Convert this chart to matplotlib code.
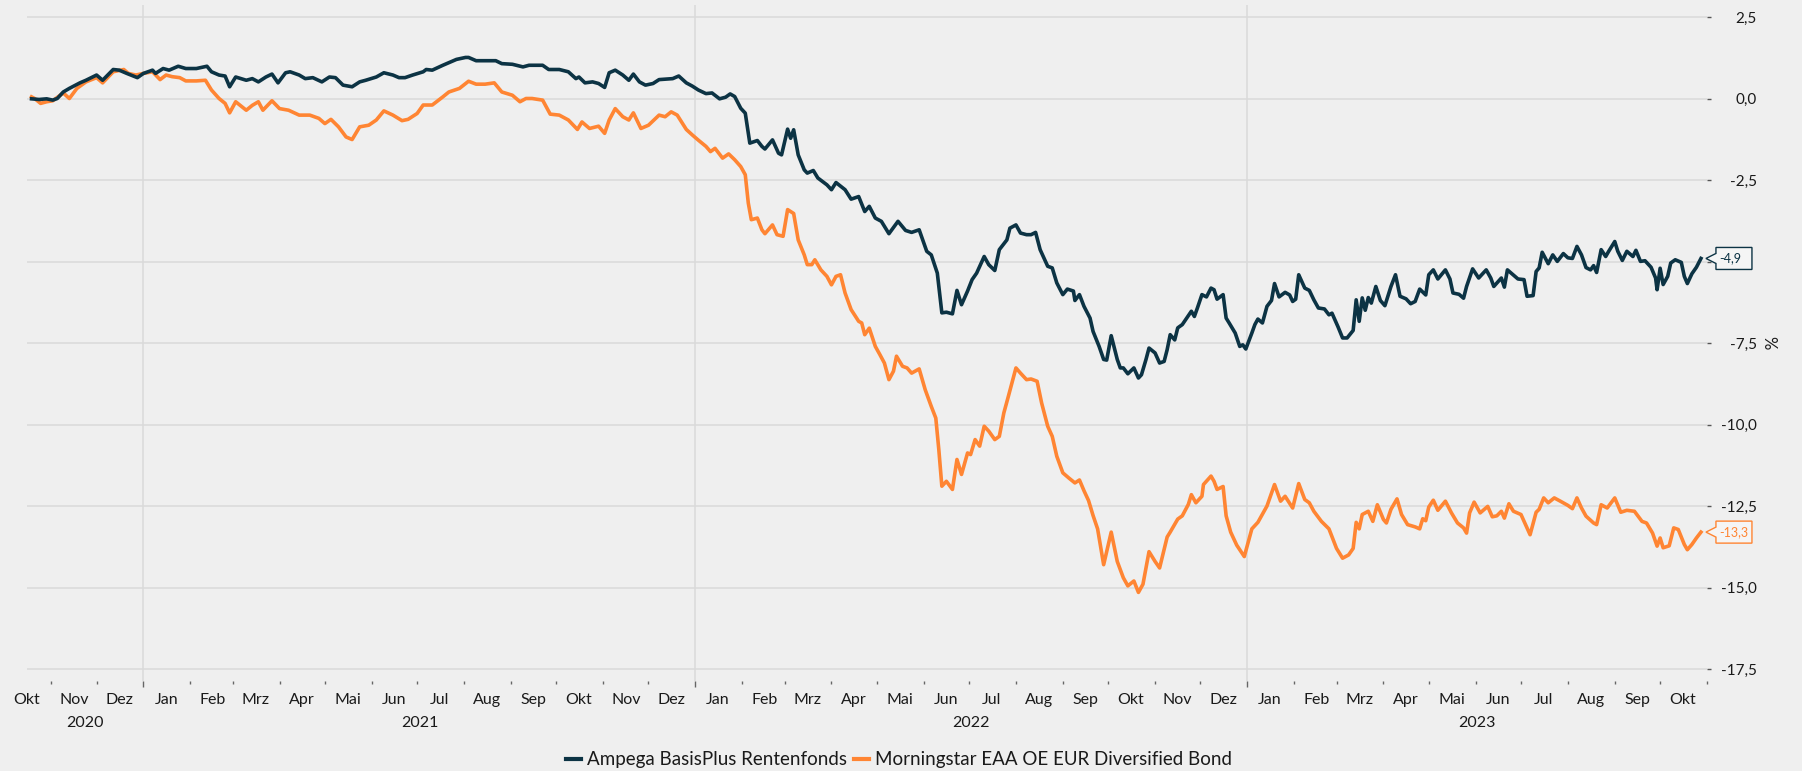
import pandas as pd
import numpy as np
import matplotlib
matplotlib.use('Agg')
import matplotlib.pyplot as plt
import matplotlib.dates as mdates
import matplotlib.transforms as mtransforms
from matplotlib.patches import Polygon
from matplotlib.lines import Line2D

plt.rcParams['font.family'] = ['Lato', 'DejaVu Sans']

# Ampega BasisPlus Rentenfonds, Wertentwicklung in %
ampega_dates = [
    '2020-10-19', '2020-10-24', '2020-10-29', '2020-11-02', '2020-11-05', '2020-11-09', '2020-11-13', '2020-11-20',
    '2020-11-24', '2020-12-01', '2020-12-05', '2020-12-12', '2020-12-16', '2020-12-21', '2020-12-28', '2021-01-01',
    '2021-01-07', '2021-01-09', '2021-01-14', '2021-01-18', '2021-01-24', '2021-01-29', '2021-02-05', '2021-02-12',
    '2021-02-15', '2021-02-20', '2021-02-24', '2021-02-27', '2021-03-03', '2021-03-10', '2021-03-14', '2021-03-18',
    '2021-03-23', '2021-03-27', '2021-03-31', '2021-04-05', '2021-04-08', '2021-04-14', '2021-04-18', '2021-04-23',
    '2021-04-29', '2021-05-04', '2021-05-08', '2021-05-13', '2021-05-19', '2021-05-24', '2021-05-28', '2021-06-04',
    '2021-06-09', '2021-06-15', '2021-06-19', '2021-06-23', '2021-06-28', '2021-07-05', '2021-07-07', '2021-07-11',
    '2021-07-18', '2021-07-27', '2021-08-02', '2021-08-04', '2021-08-09', '2021-08-15', '2021-08-22', '2021-08-26',
    '2021-09-02', '2021-09-09', '2021-09-13', '2021-09-22', '2021-09-26', '2021-10-03', '2021-10-09', '2021-10-14',
    '2021-10-16', '2021-10-20', '2021-10-25', '2021-10-29', '2021-11-02', '2021-11-05', '2021-11-09', '2021-11-14',
    '2021-11-18', '2021-11-21', '2021-11-25', '2021-11-29', '2021-12-04', '2021-12-08', '2021-12-17', '2021-12-21',
    '2021-12-26', '2021-12-30', '2022-01-03', '2022-01-08', '2022-01-12', '2022-01-17', '2022-01-21', '2022-01-24',
    '2022-01-27', '2022-01-31', '2022-02-03', '2022-02-06', '2022-02-11', '2022-02-14', '2022-02-16', '2022-02-21',
    '2022-02-25', '2022-02-27', '2022-03-03', '2022-03-05', '2022-03-07', '2022-03-10', '2022-03-14', '2022-03-16',
    '2022-03-20', '2022-03-23', '2022-03-29', '2022-04-01', '2022-04-04', '2022-04-10', '2022-04-14', '2022-04-19',
    '2022-04-23', '2022-04-26', '2022-04-30', '2022-05-04', '2022-05-09', '2022-05-15', '2022-05-20', '2022-05-24',
    '2022-05-29', '2022-06-03', '2022-06-06', '2022-06-10', '2022-06-13', '2022-06-16', '2022-06-20', '2022-06-23',
    '2022-06-26', '2022-06-30', '2022-07-03', '2022-07-06', '2022-07-11', '2022-07-14', '2022-07-18', '2022-07-21',
    '2022-07-26', '2022-07-28', '2022-08-01', '2022-08-04', '2022-08-08', '2022-08-11', '2022-08-14', '2022-08-17',
    '2022-08-22', '2022-08-25', '2022-08-28', '2022-09-01', '2022-09-04', '2022-09-08', '2022-09-09', '2022-09-12',
    '2022-09-15', '2022-09-19', '2022-09-21', '2022-09-25', '2022-09-28', '2022-09-30', '2022-10-03', '2022-10-07',
    '2022-10-09', '2022-10-11', '2022-10-14', '2022-10-18', '2022-10-21', '2022-10-23', '2022-10-26', '2022-10-28',
    '2022-11-01', '2022-11-04', '2022-11-07', '2022-11-09', '2022-11-11', '2022-11-14', '2022-11-16', '2022-11-19',
    '2022-11-25', '2022-11-27', '2022-11-29', '2022-12-02', '2022-12-05', '2022-12-08', '2022-12-10', '2022-12-12',
    '2022-12-16', '2022-12-18', '2022-12-20', '2022-12-24', '2022-12-27', '2022-12-29', '2022-12-31', '2023-01-04',
    '2023-01-06', '2023-01-08', '2023-01-11', '2023-01-14', '2023-01-17', '2023-01-19', '2023-01-22', '2023-01-26',
    '2023-01-29', '2023-01-31', '2023-02-02', '2023-02-04', '2023-02-08', '2023-02-11', '2023-02-14', '2023-02-17',
    '2023-02-21', '2023-02-24', '2023-02-26', '2023-03-02', '2023-03-05', '2023-03-08', '2023-03-12', '2023-03-14',
    '2023-03-16', '2023-03-18', '2023-03-20', '2023-03-22', '2023-03-24', '2023-03-27', '2023-03-30', '2023-04-02',
    '2023-04-06', '2023-04-09', '2023-04-12', '2023-04-16', '2023-04-19', '2023-04-22', '2023-04-25', '2023-04-29',
    '2023-05-01', '2023-05-04', '2023-05-07', '2023-05-12', '2023-05-15', '2023-05-17', '2023-05-21', '2023-05-24',
    '2023-05-26', '2023-05-30', '2023-06-03', '2023-06-08', '2023-06-11', '2023-06-13', '2023-06-18', '2023-06-20',
    '2023-06-22', '2023-06-29', '2023-07-03', '2023-07-05', '2023-07-09', '2023-07-11', '2023-07-13', '2023-07-15',
    '2023-07-19', '2023-07-22', '2023-07-25', '2023-07-29', '2023-08-01', '2023-08-04', '2023-08-07', '2023-08-10',
    '2023-08-13', '2023-08-16', '2023-08-18', '2023-08-20', '2023-08-23', '2023-08-26', '2023-08-28', '2023-09-01',
    '2023-09-03', '2023-09-06', '2023-09-09', '2023-09-13', '2023-09-15', '2023-09-18', '2023-09-21', '2023-09-25',
    '2023-09-28', '2023-09-29', '2023-10-01', '2023-10-03', '2023-10-06', '2023-10-08', '2023-10-11', '2023-10-15',
    '2023-10-17', '2023-10-19', '2023-10-22', '2023-10-25', '2023-10-28',
]
ampega_vals = [
    0.00, -0.02, 0.00, -0.04, 0.01, 0.21, 0.32, 0.49,
    0.57, 0.73, 0.57, 0.90, 0.88, 0.78, 0.65, 0.78,
    0.88, 0.78, 0.93, 0.88, 1.00, 0.93, 0.93, 1.00,
    0.83, 0.73, 0.70, 0.37, 0.67, 0.57, 0.62, 0.52,
    0.67, 0.76, 0.49, 0.80, 0.83, 0.73, 0.62, 0.65,
    0.52, 0.67, 0.65, 0.42, 0.37, 0.52, 0.57, 0.67,
    0.80, 0.73, 0.65, 0.65, 0.73, 0.83, 0.90, 0.88,
    1.03, 1.21, 1.27, 1.27, 1.17, 1.17, 1.17, 1.08,
    1.06, 0.98, 1.03, 1.03, 0.90, 0.90, 0.83, 0.62,
    0.67, 0.49, 0.52, 0.47, 0.35, 0.80, 0.88, 0.73,
    0.57, 0.76, 0.52, 0.42, 0.47, 0.59, 0.62, 0.70,
    0.49, 0.39, 0.27, 0.16, 0.18, 0.00, 0.05, 0.15,
    0.07, -0.29, -0.44, -1.36, -1.28, -1.46, -1.54, -1.26,
    -1.67, -1.72, -0.93, -1.21, -0.95, -1.72, -2.18, -2.28,
    -2.20, -2.43, -2.64, -2.79, -2.57, -2.79, -3.08, -3.00,
    -3.46, -3.30, -3.66, -3.76, -4.14, -3.76, -4.04, -4.10,
    -4.02, -4.68, -4.79, -5.35, -6.57, -6.55, -6.60, -5.88,
    -6.32, -5.90, -5.55, -5.35, -4.84, -5.09, -5.27, -4.63,
    -4.33, -3.97, -3.87, -4.12, -4.17, -4.17, -4.10, -4.63,
    -5.14, -5.19, -5.65, -6.01, -5.84, -5.90, -6.19, -6.01,
    -6.37, -6.73, -7.14, -7.60, -8.00, -8.02, -7.27, -8.00,
    -8.26, -8.26, -8.44, -8.26, -8.57, -8.47, -8.00, -7.65,
    -7.80, -8.11, -8.06, -7.70, -7.24, -7.40, -7.03, -6.93,
    -6.52, -6.68, -6.42, -6.01, -6.08, -5.81, -5.86, -6.15,
    -6.01, -6.73, -6.88, -7.19, -7.60, -7.55, -7.68, -7.19,
    -6.93, -6.76, -6.88, -6.37, -6.19, -5.67, -6.08, -5.94,
    -6.02, -6.22, -6.15, -5.40, -5.81, -5.88, -6.17, -6.42,
    -6.45, -6.63, -6.58, -7.00, -7.34, -7.34, -7.11, -6.17,
    -6.83, -6.11, -6.49, -6.10, -6.27, -5.76, -6.19, -6.35,
    -5.76, -5.40, -6.06, -6.14, -6.29, -6.22, -5.84, -6.02,
    -5.40, -5.25, -5.53, -5.25, -5.53, -5.96, -6.00, -6.12,
    -5.76, -5.22, -5.50, -5.25, -5.50, -5.76, -5.50, -5.78,
    -5.25, -5.53, -5.55, -6.06, -6.04, -5.30, -5.19, -4.71,
    -5.06, -4.79, -4.99, -4.75, -4.88, -4.90, -4.53, -4.79,
    -5.18, -5.25, -5.12, -5.33, -4.63, -4.84, -4.68, -4.38,
    -4.68, -4.96, -4.68, -4.84, -4.65, -4.99, -4.97, -5.17,
    -5.50, -5.86, -5.20, -5.70, -5.45, -5.04, -4.94, -5.02,
    -5.45, -5.67, -5.37, -5.17, -4.90,
]

# Morningstar EAA OE EUR Diversified Bond, Wertentwicklung in %
ms_dates = [
    '2020-10-19', '2020-10-21', '2020-10-25', '2020-10-29', '2020-11-02', '2020-11-09', '2020-11-13', '2020-11-18',
    '2020-11-24', '2020-12-01', '2020-12-05', '2020-12-12', '2020-12-19', '2020-12-22', '2020-12-27', '2021-01-01',
    '2021-01-07', '2021-01-12', '2021-01-16', '2021-01-20', '2021-01-25', '2021-01-29', '2021-02-05', '2021-02-11',
    '2021-02-15', '2021-02-20', '2021-02-24', '2021-02-27', '2021-03-03', '2021-03-10', '2021-03-14', '2021-03-18',
    '2021-03-21', '2021-03-27', '2021-04-01', '2021-04-07', '2021-04-14', '2021-04-21', '2021-04-27', '2021-05-01',
    '2021-05-05', '2021-05-10', '2021-05-15', '2021-05-19', '2021-05-24', '2021-05-30', '2021-06-04', '2021-06-09',
    '2021-06-15', '2021-06-21', '2021-06-25', '2021-07-01', '2021-07-05', '2021-07-11', '2021-07-18', '2021-07-22',
    '2021-07-29', '2021-08-04', '2021-08-09', '2021-08-15', '2021-08-21', '2021-08-26', '2021-09-02', '2021-09-07',
    '2021-09-11', '2021-09-15', '2021-09-22', '2021-09-27', '2021-10-03', '2021-10-09', '2021-10-15', '2021-10-18',
    '2021-10-23', '2021-10-29', '2021-11-02', '2021-11-05', '2021-11-09', '2021-11-14', '2021-11-18', '2021-11-21',
    '2021-11-26', '2021-12-01', '2021-12-08', '2021-12-12', '2021-12-16', '2021-12-20', '2021-12-26', '2021-12-30',
    '2022-01-03', '2022-01-08', '2022-01-11', '2022-01-14', '2022-01-19', '2022-01-23', '2022-01-27', '2022-01-31',
    '2022-02-03', '2022-02-05', '2022-02-07', '2022-02-11', '2022-02-14', '2022-02-16', '2022-02-21', '2022-02-24',
    '2022-02-28', '2022-03-03', '2022-03-07', '2022-03-10', '2022-03-14', '2022-03-16', '2022-03-19', '2022-03-21',
    '2022-03-25', '2022-03-29', '2022-04-01', '2022-04-04', '2022-04-07', '2022-04-10', '2022-04-14', '2022-04-19',
    '2022-04-21', '2022-04-23', '2022-04-26', '2022-04-30', '2022-05-03', '2022-05-06', '2022-05-09', '2022-05-12',
    '2022-05-14', '2022-05-18', '2022-05-21', '2022-05-24', '2022-05-29', '2022-06-02', '2022-06-06', '2022-06-09',
    '2022-06-11', '2022-06-13', '2022-06-16', '2022-06-20', '2022-06-23', '2022-06-26', '2022-06-30', '2022-07-02',
    '2022-07-05', '2022-07-08', '2022-07-11', '2022-07-14', '2022-07-18', '2022-07-21', '2022-07-24', '2022-07-27',
    '2022-08-01', '2022-08-04', '2022-08-08', '2022-08-11', '2022-08-15', '2022-08-18', '2022-08-22', '2022-08-25',
    '2022-08-28', '2022-09-01', '2022-09-05', '2022-09-09', '2022-09-12', '2022-09-15', '2022-09-18', '2022-09-21',
    '2022-09-24', '2022-09-28', '2022-10-03', '2022-10-07', '2022-10-11', '2022-10-14', '2022-10-18', '2022-10-21',
    '2022-10-24', '2022-10-28', '2022-11-01', '2022-11-04', '2022-11-09', '2022-11-11', '2022-11-16', '2022-11-19',
    '2022-11-23', '2022-11-25', '2022-11-28', '2022-12-02', '2022-12-03', '2022-12-08', '2022-12-10', '2022-12-12',
    '2022-12-16', '2022-12-18', '2022-12-21', '2022-12-25', '2022-12-30', '2023-01-04', '2023-01-08', '2023-01-14',
    '2023-01-19', '2023-01-23', '2023-01-26', '2023-01-31', '2023-02-04', '2023-02-08', '2023-02-11', '2023-02-14',
    '2023-02-19', '2023-02-24', '2023-03-01', '2023-03-05', '2023-03-09', '2023-03-12', '2023-03-14', '2023-03-16',
    '2023-03-18', '2023-03-22', '2023-03-25', '2023-03-28', '2023-04-01', '2023-04-03', '2023-04-06', '2023-04-10',
    '2023-04-13', '2023-04-17', '2023-04-22', '2023-04-25', '2023-04-27', '2023-04-29', '2023-05-01', '2023-05-04',
    '2023-05-07', '2023-05-12', '2023-05-16', '2023-05-20', '2023-05-24', '2023-05-26', '2023-05-28', '2023-05-31',
    '2023-06-04', '2023-06-09', '2023-06-12', '2023-06-15', '2023-06-18', '2023-06-20', '2023-06-23', '2023-06-26',
    '2023-07-01', '2023-07-04', '2023-07-07', '2023-07-11', '2023-07-13', '2023-07-16', '2023-07-19', '2023-07-23',
    '2023-07-27', '2023-08-01', '2023-08-04', '2023-08-07', '2023-08-10', '2023-08-13', '2023-08-18', '2023-08-20',
    '2023-08-23', '2023-08-27', '2023-09-01', '2023-09-05', '2023-09-09', '2023-09-14', '2023-09-19', '2023-09-22',
    '2023-09-26', '2023-09-29', '2023-10-01', '2023-10-03', '2023-10-07', '2023-10-10', '2023-10-13', '2023-10-17',
    '2023-10-19', '2023-10-22', '2023-10-25', '2023-10-28',
]
ms_vals = [
    0.06, 0.01, -0.14, -0.09, -0.06, 0.18, 0.01, 0.32,
    0.52, 0.65, 0.49, 0.83, 0.90, 0.78, 0.73, 0.78,
    0.83, 0.59, 0.73, 0.68, 0.65, 0.55, 0.55, 0.57,
    0.27, 0.01, -0.14, -0.43, -0.09, -0.35, -0.20, -0.09,
    -0.35, -0.06, -0.30, -0.35, -0.50, -0.50, -0.60, -0.76,
    -0.63, -0.86, -1.17, -1.25, -0.86, -0.81, -0.65, -0.37,
    -0.50, -0.67, -0.63, -0.45, -0.19, -0.19, 0.06, 0.21,
    0.32, 0.54, 0.45, 0.45, 0.49, 0.21, 0.11, -0.09,
    0.01, 0.01, -0.04, -0.47, -0.50, -0.65, -0.94, -0.71,
    -0.91, -0.84, -1.06, -0.65, -0.30, -0.55, -0.65, -0.43,
    -0.91, -0.81, -0.50, -0.55, -0.40, -0.50, -0.94, -1.11,
    -1.27, -1.46, -1.62, -1.52, -1.82, -1.69, -1.87, -2.08,
    -2.33, -3.20, -3.71, -3.66, -4.02, -4.14, -3.87, -4.17,
    -4.22, -3.40, -3.52, -4.33, -4.79, -5.09, -5.09, -4.94,
    -5.25, -5.45, -5.71, -5.45, -5.40, -5.96, -6.47, -6.83,
    -6.88, -7.24, -7.04, -7.60, -7.85, -8.11, -8.62, -8.36,
    -7.90, -8.21, -8.26, -8.42, -8.29, -8.93, -9.44, -9.80,
    -10.77, -11.89, -11.74, -11.99, -11.07, -11.53, -10.87, -10.92,
    -10.46, -10.66, -10.05, -10.20, -10.46, -10.36, -9.64, -9.13,
    -8.26, -8.42, -8.62, -8.60, -8.67, -9.34, -10.05, -10.36,
    -10.97, -11.48, -11.64, -11.79, -11.70, -12.03, -12.33, -12.79,
    -13.20, -14.30, -13.30, -14.20, -14.70, -14.95, -14.80, -15.15,
    -14.90, -13.90, -14.20, -14.40, -13.45, -13.30, -12.90, -12.80,
    -12.45, -12.15, -12.40, -12.20, -11.84, -11.58, -11.74, -11.99,
    -11.90, -12.80, -13.30, -13.70, -14.05, -13.20, -13.00, -12.50,
    -11.84, -12.35, -12.20, -12.56, -11.81, -12.30, -12.40, -12.66,
    -12.97, -13.20, -13.80, -14.10, -14.00, -13.80, -13.00, -13.20,
    -12.76, -12.66, -12.97, -12.46, -12.91, -13.02, -12.60, -12.28,
    -12.76, -13.07, -13.14, -13.20, -12.89, -12.95, -12.53, -12.32,
    -12.63, -12.35, -12.71, -13.02, -13.17, -13.33, -12.71, -12.38,
    -12.71, -12.51, -12.83, -12.80, -12.66, -12.87, -12.43, -12.66,
    -12.76, -13.07, -13.38, -12.69, -12.60, -12.25, -12.40, -12.25,
    -12.35, -12.48, -12.58, -12.25, -12.56, -12.81, -13.02, -13.07,
    -12.46, -12.56, -12.25, -12.69, -12.63, -12.66, -12.97, -13.02,
    -13.33, -13.73, -13.48, -13.78, -13.72, -13.17, -13.22, -13.68,
    -13.84, -13.68, -13.48, -13.30,
]

series_names = ['Ampega BasisPlus Rentenfonds', 'Morningstar EAA OE EUR Diversified Bond']
end_labels = ['-4,9', '-13,3']
y_ticks = [2.5, 0.0, -2.5, -5.0, -7.5, -10.0, -12.5, -15.0, -17.5]
month_names = ['Jan', 'Feb', 'Mrz', 'Apr', 'Mai', 'Jun', 'Jul', 'Aug', 'Sep', 'Okt', 'Nov', 'Dez']

navy = '#0c3344'
orange = '#ff8533'
bg = '#efefef'
grid_c = '#d9d9d9'
text_c = '#1a1a1a'

x_start = pd.Timestamp('2020-10-16')
x_end = pd.Timestamp('2023-11-01')

fig = plt.figure(figsize=(18.02, 7.71), dpi=100)
fig.patch.set_facecolor(bg)
ax = fig.add_axes([27 / 1802, 1 - 681 / 771, (1707 - 27) / 1802, (681 - 5) / 771])
ax.set_facecolor(bg)

a_x = pd.to_datetime(ampega_dates)
m_x = pd.to_datetime(ms_dates)
ax.plot(a_x, ampega_vals, color=navy, lw=2.6, solid_joinstyle='round', zorder=4)
ax.plot(m_x, ms_vals, color=orange, lw=2.6, solid_joinstyle='round', zorder=3)

ax.set_xlim(x_start, x_end)
ax.set_ylim(-17.87, 2.88)

for s in ax.spines.values():
    s.set_visible(False)

# y axis on the right, german number format (the -5,0 label sits under the callout)
ax.yaxis.tick_right()
ax.set_yticks(y_ticks)
ylabels = [('%.1f' % v).replace('.', ',') for v in y_ticks]
ylabels[y_ticks.index(-5.0)] = ''
ax.set_yticklabels(ylabels)
ax.tick_params(axis='y', length=3, width=1, color='#555555', pad=33, labelsize=11, labelcolor=text_c)
for lab in ax.get_yticklabels():
    lab.set_horizontalalignment('right')
ax.grid(axis='y', color=grid_c, lw=1.1)

# x axis: month ticks, year gridlines
ax.xaxis.set_major_locator(mdates.YearLocator())
ax.xaxis.set_minor_locator(mdates.MonthLocator())
ax.xaxis.set_major_formatter(plt.NullFormatter())
ax.tick_params(axis='x', which='major', length=4, width=1, color='#666666')
ax.tick_params(axis='x', which='minor', length=2, width=1, color='#666666')
ax.grid(axis='x', which='major', color=grid_c, lw=1.1)
ax.set_axisbelow(True)

months = pd.date_range('2020-10-01', '2023-10-01', freq='MS')
for m in months:
    mid = m + pd.Timedelta(days=15)
    ax.annotate(month_names[m.month - 1], xy=(mid, 0), xycoords=('data', 'axes fraction'),
                xytext=(0, -14), textcoords='offset points', ha='center', va='center',
                fontsize=11.5, color=text_c, annotation_clip=False)

for yr in [2020, 2021, 2022, 2023]:
    lo = max(pd.Timestamp(yr, 1, 1), x_start)
    hi = min(pd.Timestamp(yr + 1, 1, 1), x_end)
    ax.annotate(str(yr), xy=(lo + (hi - lo) / 2, 0), xycoords=('data', 'axes fraction'),
                xytext=(0, -30.5), textcoords='offset points', ha='center', va='center',
                fontsize=11.5, color=text_c, annotation_clip=False)

fig.text(1768 / 1802, 1 - 343 / 771, '%', rotation=270, ha='center', va='center',
         fontsize=12, color=text_c)


def end_label(xd, yv, txt, col):
    # callout box with a small notch pointing at the last value
    trans = fig.dpi_scale_trans + mtransforms.ScaledTranslation(mdates.date2num(xd), yv, ax.transData)
    verts = np.array([[5, 0], [15, 5], [15, 11], [51, 11], [51, -11], [15, -11], [15, -5]]) / 100.0
    poly = Polygon(verts, closed=True, transform=trans, facecolor='#f5f5f5', edgecolor=col,
                   lw=1.0, zorder=6, clip_on=False)
    ax.add_artist(poly)
    ax.annotate(txt, xy=(xd, yv), xytext=(18.5 * 0.72, 0), textcoords='offset points',
                ha='left', va='center', fontsize=9, color=col, zorder=7, annotation_clip=False)


end_label(a_x[-1], ampega_vals[-1], end_labels[0], navy)
end_label(m_x[-1], ms_vals[-1], end_labels[1], orange)

handles = [Line2D([0], [0], color=navy, lw=3), Line2D([0], [0], color=orange, lw=3)]
fig.legend(handles, series_names, loc='center', bbox_to_anchor=(0.499, 1 - 760 / 771), ncol=2,
           frameon=False, fontsize=13.5, handlelength=0.8, handletextpad=0.3, columnspacing=0.4,
           labelcolor=text_c)

fig.savefig('out.png', dpi=100, facecolor=bg)
